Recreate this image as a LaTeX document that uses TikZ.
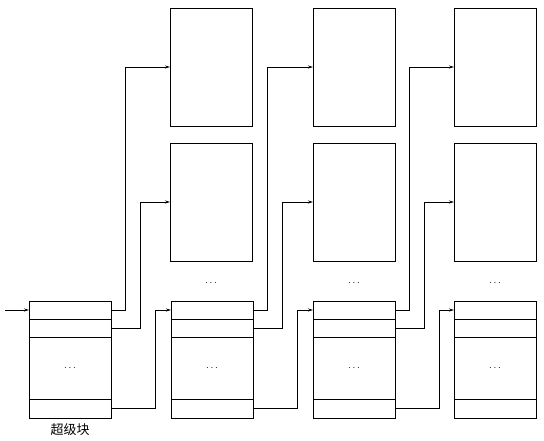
\documentclass[tikz,border=0pt]{standalone}
\usepackage{fontspec}
\newfontfamily\cjk{Noto Sans CJK SC}
\usetikzlibrary{arrows.meta,calc}
\begin{document}
\begin{tikzpicture}[x=1pt,y=-1pt,line width=0.8pt,
  blk/.style={draw,minimum width=82pt,minimum height=117pt,inner sep=0pt,outer sep=0pt},
  ublk/.style={draw,minimum width=82pt,minimum height=118pt,inner sep=0pt,outer sep=0pt},
  link/.style={-{Stealth[length=5pt,width=3pt]}},
  dotsn/.style={inner sep=0pt,font=\normalsize}]
\useasboundingbox (0,0) rectangle (544,441);
% index blocks (bottom row)
\node[blk] (b1) at (70,359.5) {};
\node[blk] (b2) at (212,359.5) {};
\node[blk] (b3) at (354,359.5) {};
\node[blk] (b4) at (495,359.5) {};
% upper data blocks
\node[ublk] (u2a) at (211,67) {};
\node[ublk] (u2b) at (211,202) {};
\node[ublk] (u3a) at (354,67) {};
\node[ublk] (u3b) at (354,202) {};
\node[ublk] (u4a) at (495,67) {};
\node[ublk] (u4b) at (495,202) {};
% row separators and dots
\foreach \i in {1,2,3,4} {
  \draw ($(b\i.north west)+(0,18)$) -- ($(b\i.north east)+(0,18)$);
  \draw ($(b\i.north west)+(0,36)$) -- ($(b\i.north east)+(0,36)$);
  \draw ($(b\i.south west)+(0,-19)$) -- ($(b\i.south east)+(0,-19)$);
  \node[dotsn] (d\i) at ($(b\i.north)+(0,67)$) {$\cdots$};
  \coordinate (p\i in) at ($(b\i.north west)+(0,9)$);
  \coordinate (p\i a) at ($(b\i.north east)+(0,9)$);
  \coordinate (p\i b) at ($(b\i.north east)+(0,27)$);
  \coordinate (p\i c) at ($(b\i.south east)+(0,-9.5)$);
}
\foreach \j in {2,3,4} {
  \node[dotsn] (ud\j) at ($(u\j b.south)+(0,22)$) {$\cdots$};
}
% connectors
\foreach \i/\j in {1/2,2/3,3/4} {
  \draw[link] (p\i a) -- ++(14,0) |- (u\j a.west);
  \draw[link] (p\i b) -- ++(29,0) |- (u\j b.west);
  \draw[link] (p\i c) -- ++(44,0) |- (p\j in);
}
\coordinate (start) at (5,310);
\draw[link] (start) -- (p1in);
\node[font=\cjk\fontsize{13}{13}\selectfont] (lbl) at (70,430) {超级块};
\end{tikzpicture}
\end{document}
